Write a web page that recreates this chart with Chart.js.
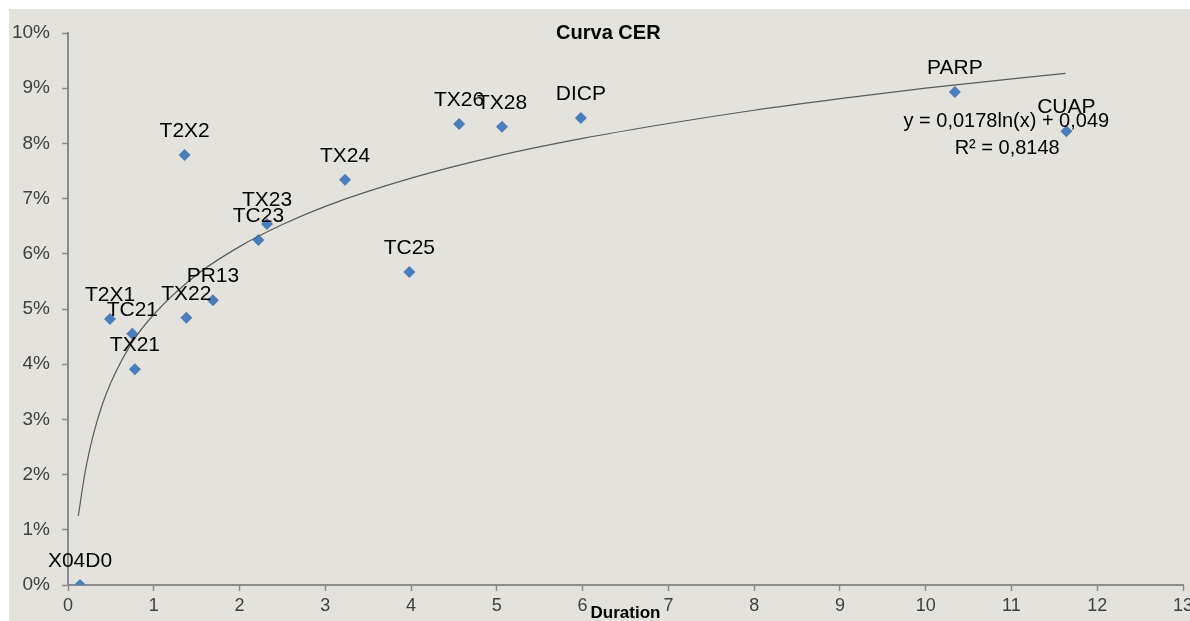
<!DOCTYPE html>
<html>
<head>
<meta charset="utf-8">
<script src="https://cdn.jsdelivr.net/npm/chart.js@4.4.1/dist/chart.umd.min.js"></script>
<style>
  html, body { margin: 0; padding: 0; background: #ffffff; overflow: hidden; }
  #wrap { position: absolute; left: 9px; top: 9px; width: 1181px; height: 612px; background: #e3e2dc; }
</style>
</head>
<body>
<div id="wrap"><canvas id="chart"></canvas></div>
<script>
// bond tickers, duration (years) and yield (%)
const bonds = ['X04D0', 'T2X1', 'TC21', 'TX21', 'T2X2', 'TX22', 'PR13', 'TC23', 'TX23', 'TX24', 'TC25', 'TX26', 'TX28', 'DICP', 'PARP', 'CUAP'];
const durations = [0.14, 0.49, 0.75, 0.78, 1.36, 1.38, 1.69, 2.22, 2.32, 3.23, 3.98, 4.56, 5.06, 5.98, 10.34, 11.64];
const yields = [0.00, 4.82, 4.55, 3.91, 7.79, 4.84, 5.16, 6.25, 6.54, 7.34, 5.67, 8.35, 8.30, 8.46, 8.93, 8.22];

// log trendline
const trendX = [0.12, 0.2, 0.3, 0.4, 0.5, 0.75, 1, 1.5, 2, 2.5, 3, 4, 5, 6, 7, 8, 9, 10, 11.63];
const trendY = [1.25, 2.05, 2.75, 3.27, 3.67, 4.40, 4.90, 5.62, 6.13, 6.53, 6.86, 7.37, 7.77, 8.09, 8.36, 8.60, 8.81, 9.00, 9.27];

const chartTitle = 'Curva CER';
const xTitle = 'Duration';
const eqText = ['y = 0,0178ln(x) + 0,049', 'R² = 0,8148'];

const points = durations.map((d, i) => ({ x: d, y: yields[i] }));
const trend = trendX.map((d, i) => ({ x: d, y: trendY[i] }));

// draws title, point labels, equation and axis title like the Excel sheet
const textPlugin = {
    id: 'texts',
    afterDatasetsDraw(chart) {
        const ctx = chart.ctx;
        const xs = chart.scales.x;
        const ys = chart.scales.y;
        ctx.save();
        ctx.fillStyle = '#000';
        ctx.textAlign = 'center';
        ctx.textBaseline = 'middle';

        // labels over each point
        ctx.font = '21px "Liberation Sans", Arial, sans-serif';
        chart.getDatasetMeta(1).data.forEach((el, i) => {
            ctx.fillText(bonds[i], el.x, el.y - 24);
        });

        // trendline equation
        ctx.font = '20px "Liberation Sans", Arial, sans-serif';
        ctx.fillText(eqText[0], xs.getPixelForValue(10.94), ys.getPixelForValue(8.39));
        ctx.fillText(eqText[1], xs.getPixelForValue(10.95), ys.getPixelForValue(7.90));

        // chart title
        ctx.font = 'bold 20px "Liberation Sans", Arial, sans-serif';
        ctx.fillText(chartTitle, xs.getPixelForValue(6.3), chart.chartArea.top);

        // axis title sits on the tick labels
        ctx.font = 'bold 17px "Liberation Sans Narrow", "Liberation Sans", Arial, sans-serif';
        ctx.fillText(xTitle, xs.getPixelForValue(6.5), chart.chartArea.bottom + 28);
        ctx.restore();
    }
};

new Chart(document.getElementById('chart'), {
    type: 'scatter',
    data: {
        datasets: [
            {
                type: 'line',
                data: trend,
                borderColor: '#5a5a5a',
                borderWidth: 1.2,
                pointRadius: 0,
                cubicInterpolationMode: 'monotone',
                fill: false
            },
            {
                data: points,
                pointStyle: 'rectRot',
                pointRadius: 6,
                backgroundColor: '#4a7ebb',
                borderColor: '#4a7ebb',
                borderWidth: 0
            }
        ]
    },
    options: {
        responsive: true,
        maintainAspectRatio: false,
        animation: false,
        layout: { autoPadding: false, padding: { top: 24, right: 7, left: 0, bottom: 0 } },
        plugins: { legend: { display: false }, tooltip: { enabled: false }, title: { display: false } },
        scales: {
            x: {
                type: 'linear',
                min: 0,
                max: 13,
                ticks: { stepSize: 1, color: '#404040', padding: 4, font: { size: 18, family: '"Liberation Sans", Arial, sans-serif' } },
                grid: { drawOnChartArea: false, tickLength: 6, tickColor: '#8c8c8c', tickWidth: 1.5 },
                border: { color: '#8c8c8c', width: 2 },
                afterFit: (s) => { s.height = 36; s.paddingRight = 0; s.paddingLeft = 0; }
            },
            y: {
                min: 0,
                max: 10,
                ticks: { stepSize: 1, color: '#404040', padding: 12, callback: (v) => v + '%', font: { size: 19, family: '"Liberation Sans", Arial, sans-serif' } },
                grid: { drawOnChartArea: false, tickLength: 6, tickColor: '#8c8c8c', tickWidth: 1.5 },
                border: { color: '#8c8c8c', width: 2 },
                afterFit: (s) => { s.width = 59; }
            }
        }
    },
    plugins: [textPlugin]
});
</script>
</body>
</html>
